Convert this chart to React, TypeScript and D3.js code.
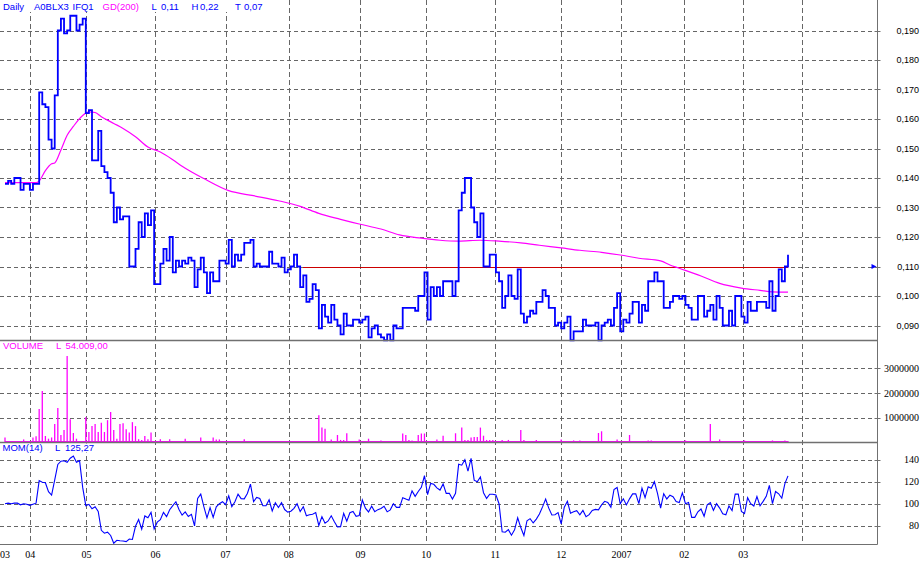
import React from "react";
import * as d3 from "d3";

// Daily closes (one per trading day)
const closes = [
  0.138, 0.139, 0.138, 0.140, 0.140, 0.136, 0.138, 0.138, 0.136, 0.138,
  0.138, 0.169, 0.165, 0.164, 0.153, 0.150, 0.168, 0.190, 0.194, 0.189,
  0.190, 0.195, 0.195, 0.190, 0.192, 0.194, 0.162, 0.163, 0.146, 0.146,
  0.156, 0.144, 0.142, 0.140, 0.135, 0.125, 0.130, 0.126, 0.127, 0.127,
  0.110, 0.110, 0.116, 0.125, 0.120, 0.128, 0.124, 0.129, 0.104, 0.104,
  0.111, 0.116, 0.112, 0.120, 0.108, 0.112, 0.110, 0.112, 0.111, 0.113,
  0.112, 0.103, 0.109, 0.113, 0.108, 0.101, 0.108, 0.105, 0.105, 0.112,
  0.112, 0.111, 0.119, 0.110, 0.114, 0.112, 0.114, 0.118, 0.118, 0.119,
  0.110, 0.111, 0.110, 0.110, 0.110, 0.115, 0.111, 0.111, 0.110, 0.113,
  0.108, 0.109, 0.110, 0.114, 0.110, 0.103, 0.107, 0.098, 0.099, 0.104,
  0.102, 0.089, 0.097, 0.093, 0.091, 0.097, 0.092, 0.090, 0.087, 0.094,
  0.090, 0.090, 0.092, 0.092, 0.091, 0.092, 0.093, 0.086, 0.089, 0.090,
  0.087, 0.086, 0.085, 0.087, 0.085, 0.090, 0.089, 0.089, 0.096, 0.096,
  0.096, 0.096, 0.095, 0.100, 0.100, 0.108, 0.092, 0.103, 0.100, 0.103,
  0.100, 0.105, 0.105, 0.105, 0.100, 0.105, 0.129, 0.135, 0.140, 0.140,
  0.130, 0.125, 0.120, 0.128, 0.110, 0.110, 0.114, 0.114, 0.108, 0.105,
  0.096, 0.100, 0.107, 0.100, 0.099, 0.109, 0.094, 0.091, 0.093, 0.095,
  0.094, 0.098, 0.098, 0.102, 0.100, 0.096, 0.096, 0.090, 0.091, 0.089,
  0.091, 0.093, 0.085, 0.088, 0.088, 0.088, 0.092, 0.090, 0.090, 0.090,
  0.091, 0.085, 0.090, 0.091, 0.092, 0.090, 0.096, 0.101, 0.088, 0.092,
  0.091, 0.094, 0.098, 0.098, 0.091, 0.097, 0.095, 0.105, 0.105, 0.108,
  0.105, 0.105, 0.096, 0.096, 0.098, 0.100, 0.100, 0.099, 0.100, 0.097,
  0.096, 0.092, 0.092, 0.100, 0.100, 0.093, 0.095, 0.097, 0.092, 0.100,
  0.096, 0.090, 0.090, 0.095, 0.090, 0.100, 0.100, 0.093, 0.091, 0.098,
  0.095, 0.095, 0.098, 0.098, 0.098, 0.096, 0.105, 0.095, 0.100, 0.109,
  0.105, 0.110, 0.114,
];

// GD(200) moving average, read at sample days
const gdDays = [
  0, 10, 11, 13, 15, 16, 18, 20, 22, 25, 27, 29, 31, 35, 38, 42, 46, 50, 54, 57,
  64, 72, 80, 88, 95, 101, 108, 114, 121, 127, 134, 140, 146, 153, 159, 166, 172,
  179, 185, 192, 198, 204, 211, 214, 217, 224, 230, 237, 243, 247, 252,
];
const gdValues = [
  0.1384, 0.1384, 0.139, 0.1425, 0.1448, 0.1451, 0.1495, 0.1545, 0.1575, 0.1612,
  0.1624, 0.1622, 0.1608, 0.1585, 0.1568, 0.154, 0.1505, 0.1488, 0.1462, 0.144,
  0.1398, 0.1357, 0.134, 0.1323, 0.1304, 0.128, 0.126, 0.1244, 0.1227, 0.1207,
  0.1196, 0.1189, 0.1186, 0.1189, 0.1186, 0.118, 0.1172, 0.1163, 0.1155, 0.1148,
  0.1139, 0.1128, 0.1119, 0.1105, 0.1094, 0.1068, 0.1043, 0.1027, 0.1019, 0.1014,
  0.1013,
];

// MOM(14), one per trading day
const momValues = [
  100, 100.5, 100, 100.5, 100.5, 99, 100, 99.5, 98.5, 99.5,
  100.5, 121, 119.5, 119, 110.9, 107.9, 121.7, 135.7, 138.6, 139,
  137.7, 141.3, 143.4, 137.7, 139.1, 114.8, 98.2, 99.4, 95.4, 97.3,
  92.9, 75.8, 73.2, 74.1, 71.1, 64.1, 66.7, 66.3, 66.1, 65.5,
  67.9, 67.5, 79.5, 85.6, 76.9, 88.9, 87.3, 92.1, 77, 83.2,
  85.4, 92.1, 88.2, 94.5, 98.2, 101.8, 94.8, 89.6, 92.5, 88.3,
  90.3, 79.8, 104.8, 108.7, 97.3, 87.1, 96.4, 87.5, 97.2, 100,
  101.8, 99.1, 107.2, 97.3, 101.8, 108.7, 104.6, 104.4, 109.3, 117.8,
  101.9, 105.7, 104.8, 98.2, 98.2, 103.6, 93.3, 100.9, 96.5, 100.9,
  94.7, 92.4, 93.2, 95.8, 100, 92.8, 97.3, 89.1, 90, 90.4,
  91.9, 80.2, 88.2, 82.3, 84.3, 89, 83.6, 78.9, 79.1, 91.3,
  84.1, 91.8, 92.9, 88.5, 89.2, 103.4, 95.9, 92.5, 97.8, 92.8,
  94.6, 95.6, 97.7, 92.6, 94.4, 100, 96.7, 96.7, 105.5, 104.3,
  103.2, 111.6, 106.7, 111.1, 114.9, 125.6, 108.2, 118.4, 117.6, 114.4,
  112.4, 118, 109.4, 109.4, 104.2, 109.4, 135.8, 135, 140, 129.6,
  141.3, 121.4, 120, 124.3, 110, 104.8, 108.6, 108.6, 108, 100,
  74.4, 74.1, 76.4, 71.4, 76.2, 87.2, 78.3, 71.1, 84.5, 86.4,
  82.5, 86, 90.7, 97.1, 104.2, 96, 89.7, 90, 91.9, 81.7,
  96.8, 102.2, 91.4, 92.6, 93.6, 89.8, 93.9, 88.2, 90, 93.8,
  94.8, 94.4, 98.9, 102.2, 101.1, 96.8, 112.9, 114.8, 100, 104.5,
  98.9, 104.4, 108.9, 108.9, 100, 114.1, 105.6, 115.4, 114.1, 120,
  109.4, 96, 109.1, 104.3, 107.7, 106.4, 102, 101, 109.9, 100,
  101.1, 87.6, 87.6, 92.6, 95.2, 88.6, 99, 101, 93.9, 100,
  96, 90.9, 90, 97.9, 93.8, 108.7, 108.7, 93, 91, 105.4,
  100, 97.9, 106.5, 98, 102.1, 106.7, 116.7, 100, 111.1, 109,
  105, 118.3, 125.3,
];

// Volume on days with a visible bar
const volDays = [
  0, 6, 9, 10, 11, 12, 13, 14, 15, 16, 17, 18, 19, 20, 21, 22, 23, 26, 27, 28,
  29, 30, 31, 32, 33, 34, 35, 36, 37, 38, 39, 40, 41, 42, 43, 44, 45, 46, 47, 50,
  53, 58, 63, 67, 68, 69, 77, 101, 102, 103, 105, 107, 108, 109, 110, 114, 117, 121, 128, 129,
  130, 131, 133, 134, 135, 139, 141, 145, 147, 148, 149, 150, 151, 152, 153, 154, 155, 156, 157, 160,
  162, 166, 167, 171, 179, 183, 185, 191, 192, 197, 201, 207, 208, 219, 227, 230, 238, 247, 251, 252,
];
const volValues = [
  200000, 120000, 200000, 250000, 1350000, 2080000, 260000, 150000, 200000, 740000,
  1390000, 300000, 500000, 3500000, 940000, 380000, 150000, 1020000, 420000, 660000,
  740000, 420000, 800000, 420000, 900000, 1230000, 500000, 150000, 740000, 780000,
  530000, 400000, 820000, 660000, 130000, 100000, 260000, 130000, 400000, 130000,
  130000, 150000, 200000, 200000, 120000, 120000, 130000, 1100000, 600000, 550000,
  120000, 300000, 100000, 100000, 370000, 120000, 150000, 80000, 360000, 300000,
  100000, 80000, 300000, 360000, 360000, 120000, 270000, 370000, 600000, 100000,
  100000, 200000, 220000, 220000, 600000, 270000, 100000, 100000, 100000, 100000,
  100000, 500000, 100000, 100000, 120000, 80000, 80000, 380000, 450000, 120000,
  300000, 80000, 80000, 80000, 750000, 120000, 80000, 80000, 80000, 54009,
];

// Month boundaries (in trading-day units) and labels
const monthTicks = [0, 8.1, 26.2, 48.4, 71.0, 91.3, 114.4, 135.6, 157.8, 179.0, 198.4, 218.6, 237.6, 256.6];
const monthLabels = ["03", "04", "05", "06", "07", "08", "09", "10", "11", "12", "2007", "02", "03", ""];

const priceTicks = [0.09, 0.1, 0.11, 0.12, 0.13, 0.14, 0.15, 0.16, 0.17, 0.18, 0.19];
const volumeTicks = [1000000, 2000000, 3000000];
const momTicks = [80, 100, 120, 140];

const levelFrom = 96;
const levelTo = 252;
const levelValue = 0.11;
const markerValue = 0.11;

export default function App() {
  const W = 923;
  const H = 562;
  const axisX = 877.5;
  const sep1 = 340.5;
  const sep2 = 442.5;
  const bottom = 544.5;
  const gridColor = "#666666";
  const frameColor = "#707070";
  const blue = "#0000ff";
  const magenta = "#ff00ff";

  const x = d3.scaleLinear().domain([0, closes.length - 1]).range([5, 788]);
  const yP = d3.scaleLinear().domain([0.09, 0.19]).range([325.5, 30.5]);
  const yV = d3.scaleLinear().domain([0, 3000000]).range([442.4, 368.3]);
  const yM = d3.scaleLinear().domain([80, 140]).range([525.7, 459.7]);

  const pricePath = d3
    .line<number>()
    .x((_, i) => x(i))
    .y((d) => yP(d))
    .curve(d3.curveStepAfter)(closes) as string;

  const gdPath = d3
    .line<number>()
    .x((_, i) => x(gdDays[i]))
    .y((d) => yP(d))
    .curve(d3.curveMonotoneX)(gdValues) as string;

  const momPath = d3
    .line<number>()
    .x((_, i) => x(i))
    .y((d) => yM(d))(momValues) as string;

  const fmtPrice = (v: number) => d3.format(".3f")(v).replace(".", ",");

  const sans = "'Liberation Sans', Arial, sans-serif";
  const serif = "'Liberation Serif', 'Times New Roman', serif";

  return (
    <svg
      width={W}
      height={H}
      viewBox={`0 0 ${W} ${H}`}
      style={{ position: "absolute", left: 0, top: 0, background: "#ffffff" }}
    >
      <rect x={0} y={0} width={W} height={H} fill="#ffffff" />

      {/* vertical month grid */}
      {monthTicks.slice(1).map((t, k) => (
        <line
          key={"vg" + k}
          x1={Math.round(x(t)) + 0.5}
          x2={Math.round(x(t)) + 0.5}
          y1={0}
          y2={bottom}
          stroke={gridColor}
          strokeWidth={1}
          strokeDasharray="5,3"
          shapeRendering="crispEdges"
        />
      ))}

      {/* horizontal grids */}
      {priceTicks.map((t, k) => (
        <line
          key={"pg" + k}
          x1={0}
          x2={axisX}
          y1={Math.round(yP(t)) + 0.5}
          y2={Math.round(yP(t)) + 0.5}
          stroke={gridColor}
          strokeDasharray="4,3"
          shapeRendering="crispEdges"
        />
      ))}
      {volumeTicks.map((t, k) => (
        <line
          key={"vgh" + k}
          x1={0}
          x2={axisX}
          y1={Math.round(yV(t)) + 0.5}
          y2={Math.round(yV(t)) + 0.5}
          stroke={gridColor}
          strokeDasharray="4,3"
          shapeRendering="crispEdges"
        />
      ))}
      {momTicks.map((t, k) => (
        <line
          key={"mg" + k}
          x1={0}
          x2={axisX}
          y1={Math.round(yM(t)) + 0.5}
          y2={Math.round(yM(t)) + 0.5}
          stroke={gridColor}
          strokeDasharray="4,3"
          shapeRendering="crispEdges"
        />
      ))}

      {/* label backgrounds */}
      <rect x={0} y={0} width={266} height={12} fill="#ffffff" />
      <rect x={0} y={341.5} width={100} height={9} fill="#ffffff" />
      <rect x={0} y={443.5} width={90} height={9} fill="#ffffff" />

      {/* level line */}
      <line
        x1={x(levelFrom)}
        x2={x(levelTo)}
        y1={Math.round(yP(levelValue)) + 0.5}
        y2={Math.round(yP(levelValue)) + 0.5}
        stroke="#cc0000"
        strokeWidth={1}
        shapeRendering="crispEdges"
      />

      {/* moving average */}
      <path d={gdPath} fill="none" stroke={magenta} strokeWidth={1.2} />

      {/* price */}
      <path d={pricePath} fill="none" stroke={blue} strokeWidth={1.8} />

      {/* volume */}
      <line
        x1={x(0)}
        x2={x(closes.length - 1)}
        y1={441.5}
        y2={441.5}
        stroke={magenta}
        strokeWidth={1.2}
      />
      {volDays.map((d, k) => (
        <line
          key={"vb" + k}
          x1={x(d)}
          x2={x(d)}
          y1={yV(0)}
          y2={yV(volValues[k])}
          stroke={magenta}
          strokeWidth={1.3}
        />
      ))}

      {/* momentum */}
      <path d={momPath} fill="none" stroke={blue} strokeWidth={1.1} />

      {/* frame */}
      <line x1={0} x2={axisX} y1={sep1} y2={sep1} stroke={frameColor} strokeWidth={1.5} />
      <line x1={0} x2={axisX} y1={sep2} y2={sep2} stroke={frameColor} strokeWidth={1.5} />
      <line x1={0} x2={axisX} y1={bottom} y2={bottom} stroke={frameColor} strokeWidth={1} />
      <line x1={axisX} x2={axisX} y1={0} y2={bottom} stroke={frameColor} strokeWidth={1} />

      {/* axis ticks and labels */}
      {priceTicks.map((t, k) => (
        <g key={"pl" + k}>
          <line
            x1={axisX - 3}
            x2={axisX + 3}
            y1={Math.round(yP(t)) + 0.5}
            y2={Math.round(yP(t)) + 0.5}
            stroke={frameColor}
          />
          <text
            x={919}
            y={yP(t) + 3.3}
            textAnchor="end"
            fontFamily={sans}
            fontSize={9}
            fill="#000000"
          >
            {fmtPrice(t)}
          </text>
        </g>
      ))}
      {volumeTicks.map((t, k) => (
        <g key={"vl" + k}>
          <line
            x1={axisX - 3}
            x2={axisX + 3}
            y1={Math.round(yV(t)) + 0.5}
            y2={Math.round(yV(t)) + 0.5}
            stroke={frameColor}
          />
          <text
            x={919}
            y={yV(t) + 3.5}
            textAnchor="end"
            fontFamily={serif}
            fontSize={10}
            fill="#000000"
          >
            {String(t)}
          </text>
        </g>
      ))}
      {momTicks.map((t, k) => (
        <g key={"ml" + k}>
          <line
            x1={axisX - 3}
            x2={axisX + 3}
            y1={Math.round(yM(t)) + 0.5}
            y2={Math.round(yM(t)) + 0.5}
            stroke={frameColor}
          />
          <text
            x={919}
            y={yM(t) + 3.5}
            textAnchor="end"
            fontFamily={serif}
            fontSize={10}
            fill="#000000"
          >
            {String(t)}
          </text>
        </g>
      ))}

      {/* last value marker */}
      <path
        d={`M${axisX - 6},${yP(markerValue) - 2.5} L${axisX - 1},${yP(markerValue)} L${axisX - 6},${yP(markerValue) + 2.5} Z`}
        fill={blue}
      />

      {/* month labels */}
      {monthTicks.map((t, k) => (
        <text
          key={"xl" + k}
          x={x(t)}
          y={557.5}
          textAnchor="middle"
          fontFamily={serif}
          fontSize={10}
          fill="#000000"
        >
          {monthLabels[k]}
        </text>
      ))}

      {/* header texts */}
      <g fontFamily={sans} fontSize={9.5}>
        <text x={3} y={9.5} fill={blue}>Daily</text>
        <text x={34} y={9.5} fill={blue}>A0BLX3</text>
        <text x={72.5} y={9.5} fill={blue}>IFQ1</text>
        <text x={102.5} y={9.5} fill={magenta}>GD(200)</text>
        <text x={151.5} y={9.5} fill={blue}>L</text>
        <text x={161} y={9.5} fill={blue}>0,11</text>
        <text x={191.5} y={9.5} fill={blue}>H</text>
        <text x={200} y={9.5} fill={blue}>0,22</text>
        <text x={235} y={9.5} fill={blue}>T</text>
        <text x={244} y={9.5} fill={blue}>0,07</text>
      </g>
      <g fontFamily={sans} fontSize={9.5} fill={magenta}>
        <text x={3} y={349}>VOLUME</text>
        <text x={56} y={349}>L</text>
        <text x={65.5} y={349}>54.009,00</text>
      </g>
      <g fontFamily={sans} fontSize={9.5} fill={blue}>
        <text x={2.5} y={451}>MOM(14)</text>
        <text x={55} y={451}>L</text>
        <text x={65} y={451}>125,27</text>
      </g>
    </svg>
  );
}
